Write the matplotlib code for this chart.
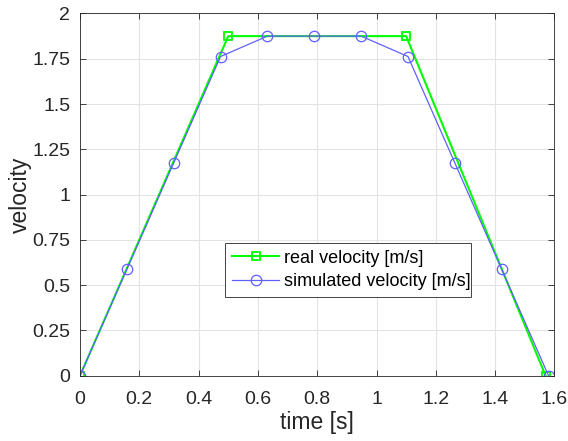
"""Real vs simulated velocity profile."""

import matplotlib.pyplot as plt

# real velocity profile (trapezoid corners)
real_t = [0.0, 0.5, 1.1, 1.57]
real_v = [0.0, 1.875, 1.875, 0.0]

# simulated velocity samples
sim_t = [0.0, 0.158, 0.316, 0.474, 0.632, 0.79, 0.948, 1.106, 1.264, 1.422, 1.58]
sim_v = [0.0, 0.5875, 1.175, 1.7625, 1.875, 1.875, 1.875, 1.7625, 1.175, 0.5875, 0.0]

xticks = [0, 0.2, 0.4, 0.6, 0.8, 1.0, 1.2, 1.4, 1.6]
xticklabels = ['0', '0.2', '0.4', '0.6', '0.8', '1', '1.2', '1.4', '1.6']
yticks = [0, 0.25, 0.5, 0.75, 1.0, 1.25, 1.5, 1.75, 2.0]
yticklabels = ['0', '0.25', '0.5', '0.75', '1', '1.25', '1.5', '1.75', '2']

plt.rcParams['font.family'] = ['Liberation Sans', 'DejaVu Sans']
dark = '#262626'

fig = plt.figure(figsize=(5.68, 4.41), dpi=100)
ax = fig.add_axes([0.1408, 0.148, 0.8354, 0.8214])

ax.plot(real_t, real_v, '-s', color='#00ff00', lw=1.5, ms=6,
        mfc='none', mec='#00ff00', mew=1.3, label='real velocity [m/s]')
ax.plot(sim_t, sim_v, '-o', color='#6060ff', lw=0.9, ms=7.5,
        mfc='none', mec='#6060ff', mew=0.9, label='simulated velocity [m/s]')

ax.set_xlim(0, 1.6)
ax.set_ylim(0, 2)
ax.set_xticks(xticks, xticklabels)
ax.set_yticks(yticks, yticklabels)
ax.tick_params(direction='in', top=True, right=True, labelsize=14,
               colors=dark, length=4, width=0.6)
ax.tick_params(axis='x', pad=11)
ax.tick_params(axis='y', pad=7)
ax.grid(True, color='#e3e3e3', lw=0.8)
ax.set_axisbelow(True)
for s in ax.spines.values():
    s.set_color(dark)
    s.set_linewidth(0.6)

ax.set_xlabel('time [s]', fontsize=16.5, color=dark, labelpad=2)
ax.set_ylabel('velocity', fontsize=16.5, color=dark, labelpad=0)

leg = ax.legend(loc='lower left', bbox_to_anchor=(0.3056, 0.2165, 0.518, 0.142),
                mode='expand', fontsize=13, fancybox=False, framealpha=1,
                edgecolor=dark, borderpad=0.4, labelspacing=0.35,
                handlelength=2.6, handletextpad=0.25, borderaxespad=0)
leg.get_frame().set_linewidth(0.6)

fig.savefig('out.png', dpi=100)
